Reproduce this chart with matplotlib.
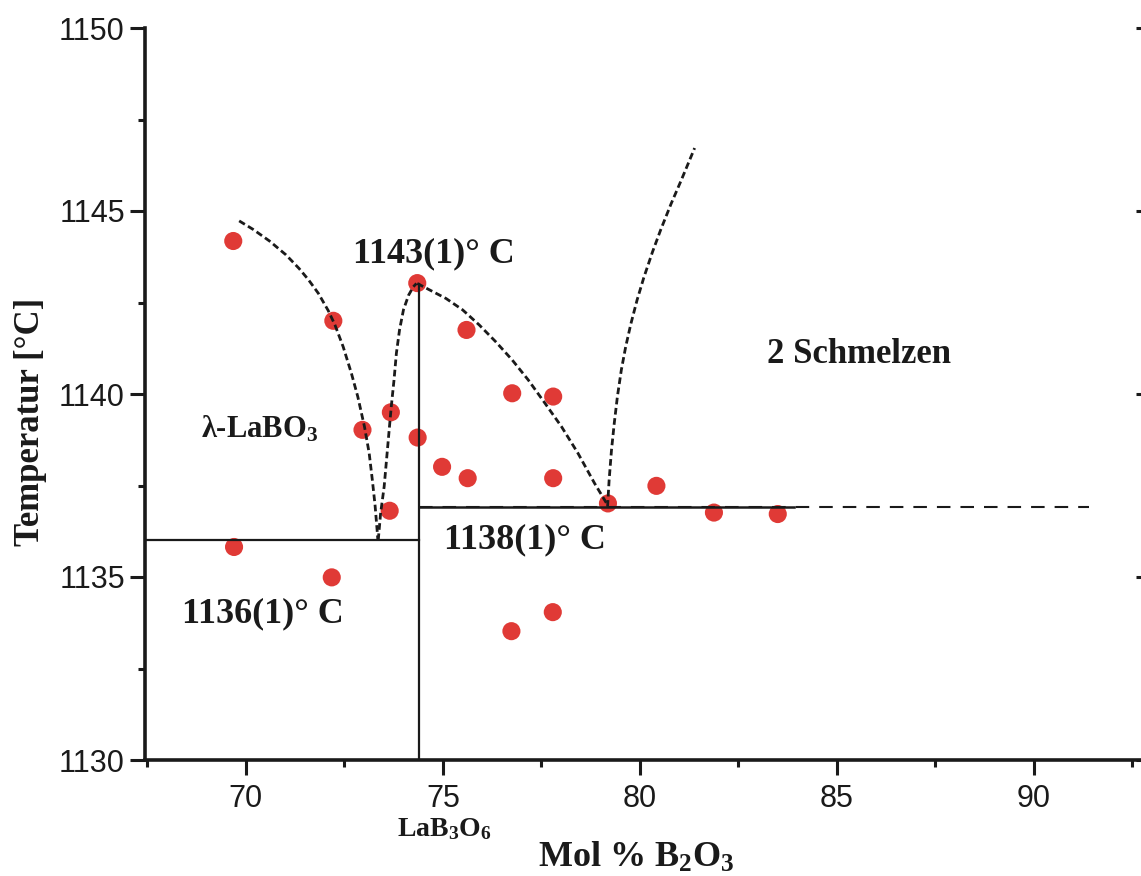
import matplotlib
matplotlib.use("Agg")
import matplotlib.pyplot as plt
from matplotlib.ticker import MultipleLocator

plt.rcParams["font.family"] = "Liberation Sans"
plt.rcParams["mathtext.fontset"] = "custom"
plt.rcParams["mathtext.rm"] = "Liberation Serif:bold"
plt.rcParams["mathtext.it"] = "Liberation Serif:bold"
plt.rcParams["mathtext.bf"] = "Liberation Serif:bold"

# measured DTA points: mol % B2O3 vs. temperature
mol_b2o3 = [69.68, 72.22, 72.96, 73.68, 74.35, 74.36, 73.65, 69.70, 72.18,
            75.60, 74.98, 75.63, 76.76, 77.80, 77.80, 76.74, 77.79, 79.19,
            80.42, 81.88, 83.50]
temp = [1144.18, 1142.0, 1139.02, 1139.5, 1143.03, 1138.81, 1136.81, 1135.82,
        1134.99, 1141.75, 1138.01, 1137.70, 1140.02, 1139.93, 1137.70,
        1133.52, 1134.04, 1137.01, 1137.49, 1136.76, 1136.72]

# liquidus of lambda-LaBO3 (dashed)
liq_labo3_x = [69.83, 70.18, 70.60, 71.02, 71.35, 71.59, 71.84, 72.09, 72.26,
               72.47, 72.68, 72.84, 73.01, 73.13, 73.21, 73.28, 73.33, 73.35]
liq_labo3_t = [1144.73, 1144.50, 1144.18, 1143.80, 1143.43, 1143.12, 1142.75,
               1142.28, 1141.89, 1141.29, 1140.56, 1139.93, 1139.11, 1138.38,
               1137.65, 1136.95, 1136.30, 1136.01]

# liquidus of LaB3O6, both sides of the congruent melting point
liq_lab3o6_left_x = [73.36, 73.42, 73.51, 73.57, 73.63, 73.69, 73.76, 73.82,
                     73.90, 74.00, 74.13, 74.25, 74.33]
liq_lab3o6_left_t = [1136.01, 1136.74, 1137.47, 1138.20, 1138.93, 1139.65,
                     1140.38, 1141.11, 1141.75, 1142.30, 1142.70, 1142.93, 1143.02]

liq_lab3o6_right_x = [74.35, 74.67, 75.08, 75.50, 75.92, 76.34, 76.76, 77.17,
                      77.59, 78.01, 78.43, 78.85, 79.18]
liq_lab3o6_right_t = [1143.02, 1142.84, 1142.61, 1142.30, 1141.89, 1141.43,
                      1140.93, 1140.38, 1139.75, 1139.11, 1138.38, 1137.56, 1136.97]

# boundary of the two-liquid region
miscibility_x = [79.18, 79.22, 79.28, 79.35, 79.43, 79.53, 79.64, 79.77, 79.93,
                 80.10, 80.32, 80.53, 80.79, 81.05, 81.39]
miscibility_t = [1136.92, 1137.65, 1138.47, 1139.20, 1139.93, 1140.66, 1141.29,
                 1141.91, 1142.57, 1143.18, 1143.88, 1144.49, 1145.19, 1145.84, 1146.72]

# invariant lines
lab3o6_x = 74.4
lab3o6_melt = 1143.0
eutectic_t = 1136.0
eutectic_x = [67.44, lab3o6_x]
monotectic_t = 1136.9
monotectic_solid_x = [lab3o6_x, 83.9]
monotectic_dash_x = [lab3o6_x, 91.4]

ink = "#1a1a1a"
red = "#e03a36"
serif = "Liberation Serif"

fig = plt.figure(figsize=(11.41, 8.76), dpi=100)
ax = fig.add_axes([145 / 1141, 116 / 876, 998 / 1141, 732 / 876])
ax.set_xlim(67.44, 92.77)
ax.set_ylim(1130, 1150)

ax.scatter(mol_b2o3, temp, s=170, color=red, edgecolors="none", zorder=2)

dash_kw = dict(color=ink, lw=2.0, linestyle=(0, (2.4, 1.3)), zorder=3)
ax.plot(liq_labo3_x, liq_labo3_t, **dash_kw)
ax.plot(liq_lab3o6_left_x, liq_lab3o6_left_t, **dash_kw)
ax.plot(liq_lab3o6_right_x, liq_lab3o6_right_t, **dash_kw)
ax.plot(miscibility_x, miscibility_t, **dash_kw)

ax.plot(monotectic_dash_x, [monotectic_t, monotectic_t], color=ink, lw=1.5,
        linestyle=(0, (6.5, 4.8)), zorder=3)
ax.plot(monotectic_solid_x, [monotectic_t, monotectic_t], color=ink, lw=1.8, zorder=4)
ax.plot(eutectic_x, [eutectic_t, eutectic_t], color=ink, lw=1.6, zorder=4)
ax.plot([lab3o6_x, lab3o6_x], [1130, lab3o6_melt], color=ink, lw=1.6, zorder=4)

# annotations
txt = dict(family=serif, fontweight="bold", color=ink, va="baseline")
ax.text(74.78, 1143.59, "1143(1)° C", fontsize=26, ha="center", **txt)
ax.text(70.42, 1133.77, "1136(1)° C", fontsize=26, ha="center", **txt)
ax.text(77.09, 1135.79, "1138(1)° C", fontsize=26, ha="center", **txt)
ax.text(85.57, 1140.85, "2 Schmelzen", fontsize=25, ha="center", **txt)
ax.text(68.85, 1138.80, "λ-LaBO$_3$", fontsize=22, ha="left", **txt)
ax.text(73.84, 1127.93, "LaB$_3$O$_6$", fontsize=20, ha="left", clip_on=False, **txt)

fig.text(538 / 1141, 9 / 876, "Mol % B$_2$O$_3$", fontsize=26, ha="left", **txt)
fig.text(31 / 1141, 1 - 422 / 876, "Temperatur [°C]", fontsize=25, rotation=90,
         family=serif, fontweight="bold", color=ink, ha="center", va="center")

# axes styling
for side in ["top", "right"]:
    ax.spines[side].set_visible(False)
for side in ["left", "bottom"]:
    ax.spines[side].set_linewidth(2.6)
    ax.spines[side].set_color(ink)

ax.xaxis.set_major_locator(MultipleLocator(5))
ax.xaxis.set_minor_locator(MultipleLocator(2.5))
ax.yaxis.set_major_locator(MultipleLocator(5))
ax.yaxis.set_minor_locator(MultipleLocator(2.5))
ax.tick_params(which="both", direction="out", width=2.2, color=ink,
               labelsize=22, labelcolor=ink)
ax.tick_params(which="major", length=11)
ax.tick_params(which="minor", length=5)
ax.tick_params(axis="x", which="major", pad=6)
ax.tick_params(axis="y", which="major", pad=3.5)

# inward ticks along the right edge
ax_r = ax.twinx()
ax_r.set_ylim(ax.get_ylim())
ax_r.yaxis.set_major_locator(MultipleLocator(5))
ax_r.tick_params(axis="y", direction="in", length=5, width=2.2, color=ink, labelright=False)
for side in ax_r.spines:
    ax_r.spines[side].set_visible(False)

fig.savefig("out.png", dpi=100)
